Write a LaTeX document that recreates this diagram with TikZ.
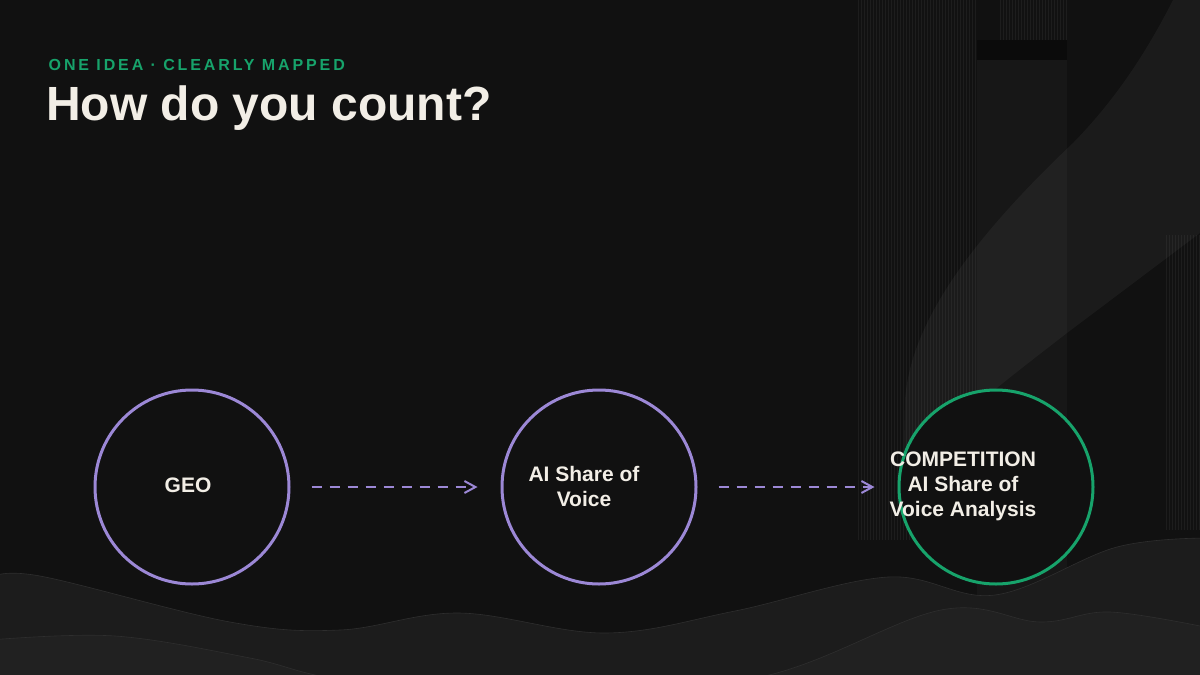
\documentclass[tikz,border=0pt]{standalone}
\usepackage{fontspec}
\setmainfont{Liberation Sans}
\font\kickerfnt="Liberation Sans/B:letterspace=18" at 16pt
\usepackage{xcolor}
\usetikzlibrary{arrows.meta}
\definecolor{bg}{HTML}{111111}
\definecolor{ink}{HTML}{F2EEE6}
\definecolor{lilac}{HTML}{9C88D6}
\definecolor{mint}{HTML}{17A36B}
\definecolor{wave}{HTML}{1C1C1C}
\definecolor{wavefront}{HTML}{212121}
\definecolor{waveedge}{HTML}{2E2E2E}
\definecolor{panel}{HTML}{171717}

\begin{document}
\begin{tikzpicture}[x=1pt, y=-1pt,
  every node/.style={inner sep=0pt},
  stage/.style={circle, draw=lilac, line width=3pt, fill=bg, minimum size=194pt},
  stage last/.style={stage, draw=mint},
  stage text/.style={align=center, text=ink, font=\bfseries\fontsize{21}{25}\selectfont},
  flow/.style={draw=lilac, line width=2pt, dash pattern=on 10pt off 8pt,
    -{Straight Barb[length=11pt,width=12pt]}, shorten <=21pt, shorten >=23pt},
  stripe/.style={draw=white, draw opacity=.05, line width=.6pt}
]
\useasboundingbox (0,0) rectangle (1200,675);
\fill[bg] (0,0) rectangle (1200,675);
\begin{scope}
\clip (0,0) rectangle (1200,675);
% right side panels
\fill[panel] (977,60) rectangle (1067,675);
\fill[black, opacity=.35] (977,40) rectangle (1067,60);
\foreach \x in {858,861,...,975} \draw[stripe] (\x,0) -- (\x,540);
\foreach \x in {1000,1003,...,1066} \draw[stripe] (\x,0) -- (\x,40);
\foreach \x in {1166,1169,...,1199} \draw[stripe] (\x,235) -- (\x,530);
\fill[white, opacity=.045] (1173,0) -- (1200,0) -- (1200,233) -- (1067,333)
  .. controls (1000,385) and (940,430) .. (903,480) -- (905,400)
  .. controls (910,330) and (960,250) .. (1073,143)
  .. controls (1120,95) and (1150,45) .. (1173,0);
% waves
\fill[wave, draw=waveedge, line width=.6pt] plot[smooth, tension=.6] coordinates {
  (-10,578) (40,576) (230,622) (340,630) (459,613) (605,633) (735,611)
  (888,577) (995,595) (1117,547) (1210,538)} -- (1210,690) -- (-10,690) -- cycle;
\fill[wavefront, draw=waveedge, line width=.6pt] plot[smooth, tension=.6] coordinates {
  (-10,640) (115,636) (250,658) (344,680) (550,700) (765,676)
  (941,610) (1040,622) (1110,612) (1210,628)} -- (1210,700) -- (-10,700) -- cycle;
\end{scope}

\node[anchor=base west, text=mint, font=\kickerfnt]
  (kicker) at (48.5,70) {ONE IDEA · CLEARLY MAPPED};
\node[anchor=base west, text=ink, font=\bfseries\fontsize{48}{56}\selectfont]
  (title) at (46,120) {How do you count?};

\node[stage] (geo) at (192,487) {};
\node[stage] (sov) at (599,487) {};
\node[stage last] (comp) at (996,487) {};
\node[stage text] (geoText) at (188,485) {GEO};
\node[stage text] (sovText) at (584,486) {AI Share of\\Voice};
\node[stage text] (compText) at (963,486) {COMPETITION\\AI Share of\\Voice Analysis};
\draw[flow] (geo) -- (sov);
\draw[flow] (sov) -- (comp);
\end{tikzpicture}
\end{document}
